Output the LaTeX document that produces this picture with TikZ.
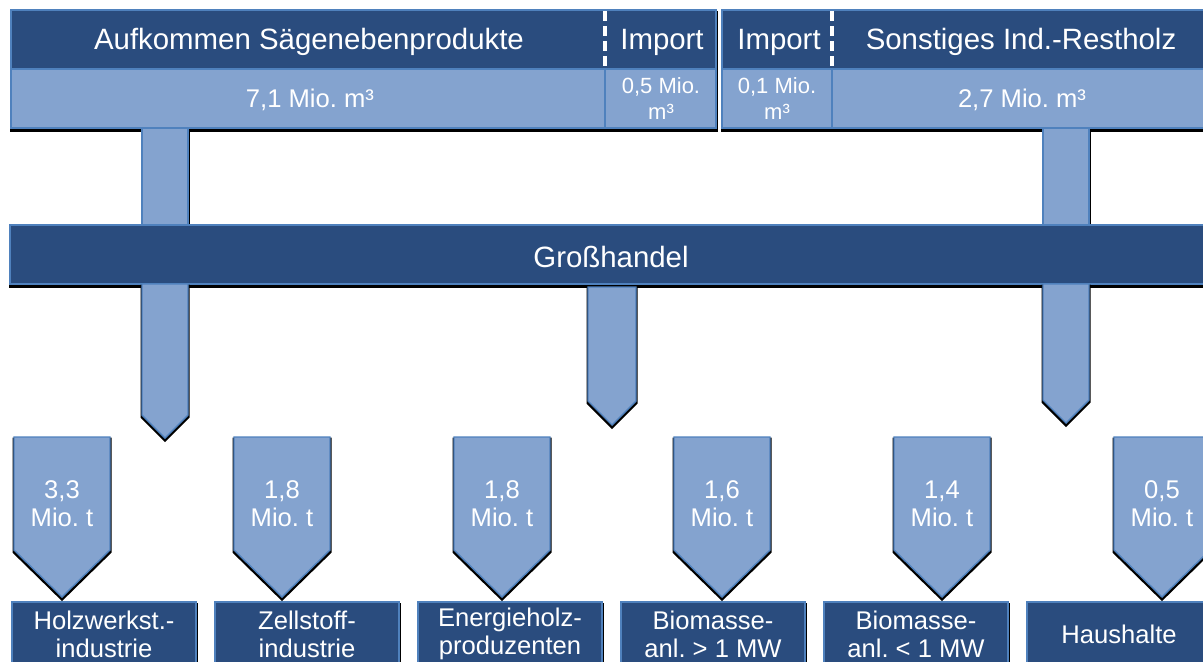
\documentclass[tikz,border=0pt]{standalone}
\usepackage{fontspec}
\setmainfont{Liberation Sans}
\frenchspacing
\definecolor{dunkelblau}{RGB}{42,76,126}
\definecolor{hellblau}{RGB}{132,163,207}
\definecolor{randblau}{RGB}{79,129,189}
\newcommand{\pfeilweg}[5]{(#1-#5,#2) -- (#1+#5,#2) -- (#1+#5,#3) -- (#1,#4) -- (#1-#5,#3) -- cycle}
\tikzset{
  schatten/.style={fill=black,draw=black,line width=1.5pt,transform canvas={yshift=-1pt}},
  dunkel/.style={fill=dunkelblau,draw=randblau,line width=0.7pt},
  hell/.style={fill=hellblau,draw=randblau,line width=0.7pt},
  trenner/.style={draw=white,line width=1.6pt,dash pattern=on 5pt off 2.5pt},
  titel/.style={text=white,font=\fontsize{14.7}{17}\selectfont},
  wert/.style={text=white,align=center,font=\fontsize{12.8}{14}\selectfont},
  klein/.style={text=white,align=center,font=\fontsize{11}{13}\selectfont},
  ziel/.style={text=white,align=center,font=\fontsize{12.8}{14}\selectfont}
}
\begin{document}
\begin{tikzpicture}[x=0.5pt,y=-0.5pt]
  \clip (0,0) rectangle (1203,661);
  % Aufkommen
  \fill[schatten] (11,10) rectangle (716,128);
  \fill[schatten] (722,10) rectangle (1212,128);
  \filldraw[dunkel] (11,10) rectangle (716,69);
  \filldraw[dunkel] (722,10) rectangle (1212,69);
  \filldraw[hell] (11,69) rectangle (716,128);
  \filldraw[hell] (722,69) rectangle (1212,128);
  \draw[randblau,line width=0.7pt] (605,69) -- (605,128);
  \draw[randblau,line width=0.7pt] (832,69) -- (832,128);
  \draw[trenner] (605,11) -- (605,68);
  \draw[trenner] (832,11) -- (832,68);
  \node[titel] (saege) at (309,42) {Aufkommen Sägenebenprodukte};
  \node[titel] (importa) at (662,42) {Import};
  \node[titel] (importb) at (779,42) {Import};
  \node[titel] (rest) at (1021,42) {Sonstiges Ind.-Restholz};
  \node[wert] (saegewert) at (310,100) {7,1 Mio. m³};
  \node[klein] (importawert) at (661,99) {0,5 Mio.\\m³};
  \node[klein] (importbwert) at (777,99) {0,1 Mio.\\m³};
  \node[wert] (restwert) at (1022,100) {2,7 Mio. m³};
  % Stroeme zum Grosshandel
  \filldraw[hell,preaction={schatten}] (142,128) rectangle (188,226);
  \filldraw[hell,preaction={schatten}] (1043,128) rectangle (1089,226);
  % Grosshandel
  \filldraw[dunkel,preaction={schatten}] (10,225) rectangle (1212,284);
  \node[titel] (handel) at (611,257) {Großhandel};
  \filldraw[hell,preaction={schatten}] \pfeilweg{165}{284}{415}{438}{23};
  \filldraw[hell,preaction={schatten}] \pfeilweg{1066}{284}{400}{423}{23};
  \filldraw[hell,preaction={schatten}] \pfeilweg{612}{287}{401}{425}{24};
  % Mengen
  \foreach \x/\menge [count=\i] in {62/{3,3},282/{1,8},502/{1,8},722/{1,6},942/{1,4},1162/{0,5}}{
    \filldraw[hell,preaction={schatten}] \pfeilweg{\x}{437}{550}{597}{48};
    \node[wert] (menge\i) at (\x,504) {\menge\\Mio. t};
  }
  % Verwender
  \foreach \x/\txt [count=\i] in {104/{Holzwerkst.-\\industrie},307/{Zellstoff-\\industrie},510/{Energieholz-\\produzenten},713/{Biomasse-\\anl. > 1 MW},916/{Biomasse-\\anl. < 1 MW},1119/{Haushalte}}{
    \filldraw[dunkel,preaction={schatten}] (\x-92,602) rectangle (\x+92,668);
    \node[ziel] (ziel\i) at (\x,634) {\txt};
  }
\end{tikzpicture}
\end{document}
